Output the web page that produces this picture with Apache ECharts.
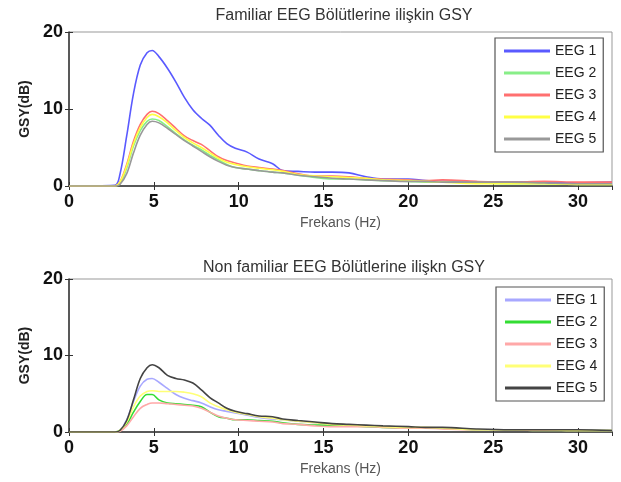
<!DOCTYPE html>
<html>
<head>
<meta charset="utf-8">
<script src="https://cdn.jsdelivr.net/npm/echarts@6/dist/echarts.min.js"></script>
<style>
  html, body { margin: 0; padding: 0; background: #fff; }
  #top, #bottom { width: 621px; height: 241px; }
</style>
</head>
<body>
<div id="top"></div>
<div id="bottom"></div>
<script>
// frekans noktalari (Hz)
const freq = [0, 2.7, 3.0, 3.4, 3.8, 4.2, 4.6, 4.9, 5.3, 5.8, 6.3, 6.8, 7.3, 7.8, 8.3, 8.8, 9.3, 9.8,
  10.5, 11.2, 12, 12.6, 13.5, 14.5, 15.5, 16.5, 17.5, 18.5, 20, 21, 22, 24, 26, 28, 30, 32];
const names = ['EEG 1', 'EEG 2', 'EEG 3', 'EEG 4', 'EEG 5'];

// Familiar
const famEEG1 = [0, 0.1, 1.5, 6.5, 12, 15.7, 17.3, 17.6, 16.8, 15.3, 13.5, 11.5, 9.9, 8.8, 7.9, 6.6, 5.5, 4.9,
  4.4, 3.5, 2.9, 2.0, 1.9, 1.8, 1.8, 1.7, 1.2, 0.9, 0.9, 0.7, 0.6, 0.5, 0.5, 0.5, 0.4, 0.5];
const famEEG2 = [0, 0, 0.3, 2.3, 5.2, 7.2, 8.4, 8.7, 8.5, 7.7, 6.8, 6.0, 5.3, 4.7, 4.0, 3.4, 2.8, 2.4,
  2.2, 2.0, 1.8, 1.7, 1.4, 1.1, 0.9, 0.9, 0.8, 0.7, 0.6, 0.5, 0.5, 0.4, 0.3, 0.3, 0.2, 0.2];
const famEEG3 = [0, 0, 0.5, 2.8, 5.8, 8.0, 9.3, 9.7, 9.4, 8.5, 7.5, 6.5, 5.9, 5.4, 4.6, 3.8, 3.3, 3.0,
  2.6, 2.4, 2.2, 2.0, 1.6, 1.3, 1.3, 1.2, 1.0, 0.9, 0.8, 0.7, 0.8, 0.6, 0.5, 0.6, 0.5, 0.5];
const famEEG4 = [0, 0, 0.5, 2.6, 5.5, 7.6, 8.9, 9.3, 9.0, 8.2, 7.2, 6.3, 5.6, 5.0, 4.3, 3.6, 3.1, 2.8,
  2.5, 2.3, 2.1, 1.9, 1.5, 1.3, 1.2, 1.1, 1.0, 0.8, 0.7, 0.6, 0.5, 0.3, 0.3, 0.3, 0.2, 0.2];
const famEEG5 = [0, 0, 0.2, 1.6, 4.3, 6.6, 8.0, 8.4, 8.2, 7.5, 6.7, 5.9, 5.2, 4.5, 3.8, 3.2, 2.7, 2.4,
  2.2, 2.0, 1.8, 1.7, 1.4, 1.2, 1.0, 0.9, 0.8, 0.7, 0.6, 0.6, 0.5, 0.5, 0.5, 0.4, 0.3, 0.3];

// Non familiar
const nonEEG1 = [0, 0, 0.2, 1.6, 4.0, 6.0, 6.9, 7.0, 6.5, 5.7, 4.9, 4.4, 4.1, 3.8, 3.3, 2.9, 2.7, 2.5,
  2.2, 1.9, 1.7, 1.6, 1.4, 1.2, 1.0, 0.9, 0.8, 0.7, 0.6, 0.5, 0.5, 0.3, 0.3, 0.3, 0.3, 0.2];
const nonEEG2 = [0, 0, 0.2, 1.0, 2.6, 4.0, 4.9, 4.9, 4.2, 3.8, 3.7, 3.6, 3.5, 3.3, 2.6, 2.0, 1.8, 1.6,
  1.6, 1.5, 1.4, 1.2, 1.0, 0.9, 0.9, 0.8, 0.7, 0.6, 0.5, 0.5, 0.5, 0.3, 0.3, 0.2, 0.2, 0.2];
const nonEEG3 = [0, 0, 0.1, 0.8, 2.0, 3.1, 3.6, 3.8, 3.8, 3.7, 3.6, 3.5, 3.4, 3.1, 2.6, 2.1, 1.8, 1.6,
  1.5, 1.4, 1.3, 1.1, 1.0, 0.8, 0.7, 0.7, 0.7, 0.6, 0.5, 0.5, 0.4, 0.3, 0.3, 0.2, 0.2, 0.2];
const nonEEG4 = [0, 0, 0.2, 1.3, 3.3, 4.7, 5.3, 5.4, 5.3, 5.3, 5.3, 5.2, 5.0, 4.6, 3.8, 3.3, 2.9, 2.6,
  2.3, 2.0, 1.8, 1.6, 1.4, 1.2, 1.0, 0.9, 0.8, 0.7, 0.6, 0.6, 0.5, 0.3, 0.3, 0.3, 0.2, 0.2];
const nonEEG5 = [0, 0, 0.2, 1.5, 4.2, 7.0, 8.4, 8.8, 8.4, 7.4, 7.0, 6.8, 6.4, 5.5, 4.5, 3.8, 3.1, 2.7,
  2.4, 2.1, 2.0, 1.7, 1.5, 1.3, 1.1, 1.0, 0.9, 0.8, 0.7, 0.6, 0.6, 0.4, 0.3, 0.3, 0.3, 0.2];

const famColors = ['#5a5aff', '#88ee88', '#ff7070', '#ffff44', '#999999'];
const nonColors = ['#a8a8ff', '#33dd33', '#ffa8a8', '#ffff77', '#444444'];

const FONT = 'Liberation Sans, Arial, sans-serif';

function pairs(vals) {
  return freq.map((f, i) => [f, vals[i]]);
}

function makeOption(title, titleTop, gridTop, gridH, legendLeft, legendTop, legendW, colors, sets) {
  return {
    animation: false,
    title: {
      text: title,
      left: 339, textAlign: 'center', top: titleTop,
      textStyle: { fontFamily: FONT, fontSize: 16, fontWeight: 'normal', color: '#333' }
    },
    grid: {
      left: 69, top: gridTop, width: 543, height: gridH,
      show: true, borderColor: '#999', borderWidth: 1
    },
    legend: {
      orient: 'vertical',
      left: legendLeft, top: legendTop, width: legendW,
      padding: [5, 7, 5, 9], itemGap: 6,
      backgroundColor: '#fff', borderColor: '#555', borderWidth: 1.2,
      icon: 'rect', itemWidth: 46, itemHeight: 3,
      textStyle: { fontFamily: FONT, fontSize: 14, color: '#222', lineHeight: 16 },
      data: names
    },
    xAxis: [{
      type: 'value', min: 0, max: 32, interval: 5,
      name: 'Frekans (Hz)', nameLocation: 'middle', nameGap: 28,
      nameTextStyle: { fontFamily: FONT, fontSize: 14, color: '#555' },
      axisLine: { lineStyle: { color: '#333', width: 1.5 } },
      axisTick: { inside: true, length: 4, lineStyle: { color: '#333' } },
      axisLabel: { fontFamily: FONT, fontSize: 18, fontWeight: 'bold', color: '#111', margin: 7, showMaxLabel: false },
      splitLine: { show: false }
    }, {
      type: 'value', min: 0, max: 32, interval: 5, position: 'top',
      axisLine: { show: false },
      axisTick: { inside: true, length: 4, lineStyle: { color: '#333' } },
      axisLabel: { show: false },
      splitLine: { show: false }
    }],
    yAxis: [{
      type: 'value', min: 0, max: 20, interval: 10,
      name: 'GSY(dB)', nameLocation: 'middle', nameGap: 33, nameRotate: 90,
      nameTextStyle: { fontFamily: FONT, fontSize: 14, fontWeight: 'bold', color: '#222' },
      axisLine: { show: true, lineStyle: { color: '#333', width: 1.5 } },
      axisTick: { show: true, inside: true, length: 4, lineStyle: { color: '#333' } },
      axisLabel: { fontFamily: FONT, fontSize: 18, fontWeight: 'bold', color: '#111', margin: 6 },
      splitLine: { show: false }
    }, {
      type: 'value', min: 0, max: 20, interval: 10, position: 'right',
      axisLine: { show: false },
      axisTick: { show: true, inside: true, length: 4, lineStyle: { color: '#333' } },
      axisLabel: { show: false },
      splitLine: { show: false }
    }],
    series: sets.map((vals, i) => ({
      name: names[i],
      type: 'line',
      data: pairs(vals),
      showSymbol: false,
      smooth: 0.35,
      color: colors[i],
      lineStyle: { width: 1.6, color: colors[i] },
      clip: true
    }))
  };
}

const topChart = echarts.init(document.getElementById('top'));
topChart.setOption(makeOption('Familiar EEG Bölütlerine ilişkin GSY', 3, 32, 154, 495, 38, 109, famColors,
  [famEEG1, famEEG2, famEEG3, famEEG4, famEEG5]));

const bottomChart = echarts.init(document.getElementById('bottom'));
bottomChart.setOption(makeOption('Non familiar EEG Bölütlerine ilişkn GSY', 14, 38, 153, 496, 46, 111, nonColors,
  [nonEEG1, nonEEG2, nonEEG3, nonEEG4, nonEEG5]));
</script>
</body>
</html>
